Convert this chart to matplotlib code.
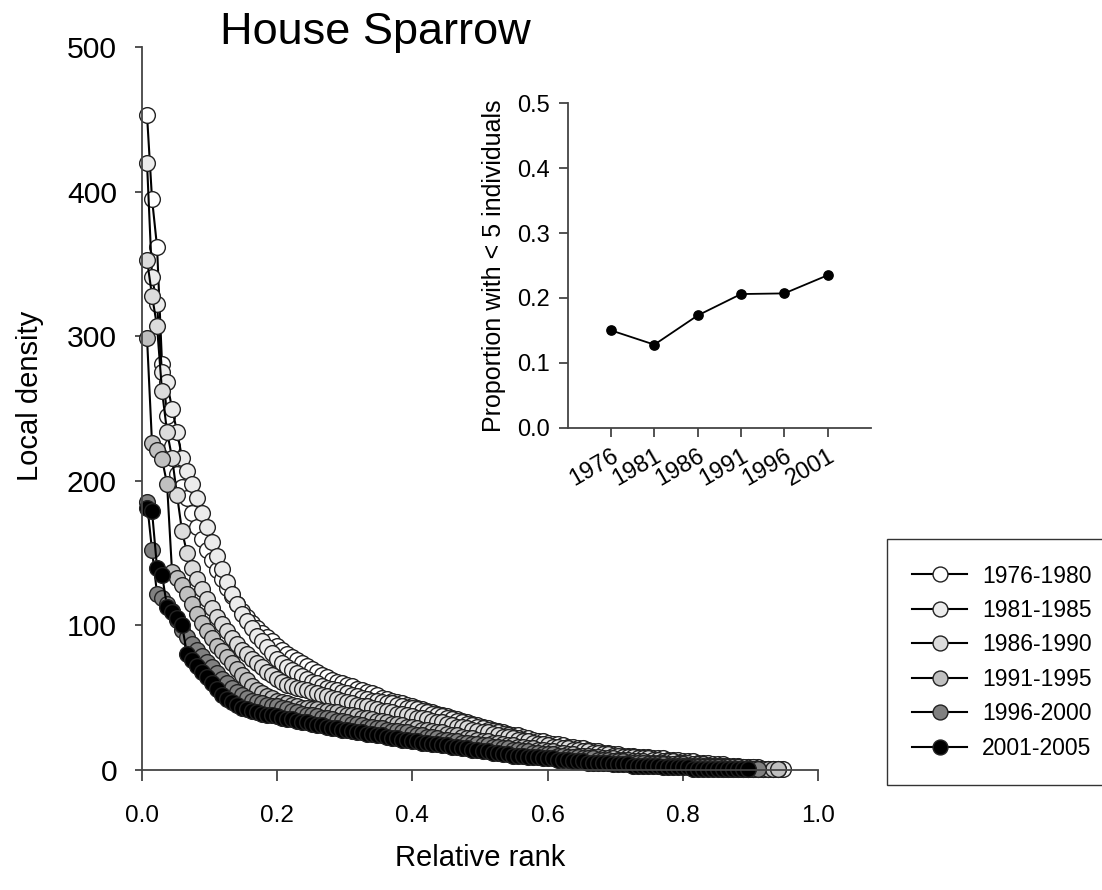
import numpy as np
import matplotlib.pyplot as plt

plt.rcParams['font.family'] = ['Liberation Sans', 'DejaVu Sans']

# Данные: локальная плотность по рангу (каждый список - один период)
periods = ['1976-1980', '1981-1985', '1986-1990', '1991-1995', '1996-2000', '2001-2005']
fills = ['#ffffff', '#ececec', '#dcdcdc', '#c0c0c0', '#808080', '#000000']
n_sites = 135

d_1976 = [453, 395, 362, 281, 245, 224, 205, 196, 188, 178,
          168, 160, 152, 145, 138, 132, 126, 120, 115, 110,
          106, 102, 98, 95, 92, 89, 86, 83, 80, 78,
          76, 74, 72, 70, 68, 66, 64, 62, 61, 60,
          59, 58, 56, 55, 54, 53, 52, 50, 49, 48,
          47, 46, 45, 44, 43, 42, 41, 40, 39, 38,
          37, 36, 35, 34, 33, 32, 31, 30, 29, 28,
          27, 26, 25, 24, 24, 23, 22, 21, 20, 20,
          19, 18, 18, 17, 16, 16, 15, 15, 14, 13,
          13, 12, 12, 11, 11, 10, 10, 10, 9, 9,
          9, 8, 8, 8, 7, 7, 7, 6, 6, 6,
          5, 5, 5, 4, 4, 4, 3, 3, 3, 2,
          2, 2, 2, 1, 1, 1, 1]
d_1981 = [420, 341, 322, 275, 268, 250, 234, 216, 207, 198,
          188, 178, 168, 158, 148, 139, 130, 122, 115, 108,
          103, 98, 93, 89, 85, 81, 77, 74, 71, 69,
          67, 65, 63, 61, 60, 58, 57, 56, 55, 54,
          53, 52, 51, 50, 49, 48, 48, 47, 46, 46,
          45, 44, 43, 43, 42, 41, 40, 39, 38, 37,
          36, 35, 34, 33, 32, 31, 30, 29, 28, 27,
          26, 25, 24, 23, 22, 21, 20, 19, 18, 17,
          16, 16, 15, 14, 14, 13, 13, 12, 12, 11,
          11, 10, 10, 9, 9, 9, 8, 8, 8, 7,
          7, 7, 6, 6, 6, 5, 5, 5, 4, 4,
          4, 4, 3, 3, 3, 3, 2, 2, 2, 2,
          2, 2, 1, 1, 1, 1, 1, 1]
d_1986 = [353, 328, 307, 262, 234, 216, 190, 165, 150, 140,
          132, 125, 118, 112, 106, 101, 96, 91, 87, 83,
          80, 77, 74, 71, 68, 66, 63, 61, 59, 58,
          57, 56, 55, 54, 53, 52, 51, 50, 49, 48,
          47, 46, 45, 44, 44, 43, 42, 41, 41, 40,
          39, 39, 38, 37, 36, 36, 35, 34, 33, 33,
          32, 31, 30, 30, 29, 28, 27, 26, 26, 25,
          24, 23, 23, 22, 21, 20, 20, 19, 18, 18,
          17, 16, 16, 15, 15, 14, 14, 13, 13, 12,
          12, 11, 11, 10, 10, 9, 9, 9, 8, 8,
          8, 7, 7, 6, 6, 6, 5, 5, 5, 4,
          4, 4, 3, 3, 3, 3, 2, 2, 2, 2,
          1, 1, 1, 1, 1, 1, 1]
d_1991 = [299, 226, 221, 215, 198, 137, 133, 128, 122, 115,
          108, 102, 96, 91, 86, 82, 78, 74, 70, 66,
          62, 58, 55, 53, 51, 50, 48, 47, 46, 45,
          44, 43, 43, 42, 42, 41, 41, 40, 40, 39,
          38, 38, 37, 36, 36, 35, 34, 34, 33, 32,
          32, 31, 30, 30, 29, 28, 28, 27, 26, 26,
          25, 24, 24, 23, 22, 22, 21, 20, 20, 19,
          19, 18, 17, 17, 16, 16, 15, 15, 14, 14,
          13, 13, 12, 12, 11, 11, 10, 10, 10, 9,
          9, 8, 8, 8, 7, 7, 7, 6, 6, 6,
          5, 5, 5, 5, 4, 4, 4, 4, 3, 3,
          3, 3, 3, 2, 2, 2, 2, 2, 2, 1,
          1, 1, 1, 1, 1, 1, 1]
d_1996 = [185, 152, 122, 119, 115, 110, 104, 97, 92, 87,
          83, 79, 75, 71, 67, 63, 60, 57, 54, 52,
          50, 48, 47, 46, 45, 44, 44, 43, 42, 41,
          40, 39, 38, 38, 37, 36, 36, 35, 34, 34,
          33, 32, 32, 31, 30, 30, 29, 29, 28, 27,
          27, 26, 26, 25, 24, 24, 23, 23, 22, 21,
          21, 20, 20, 19, 19, 18, 18, 17, 17, 16,
          16, 15, 15, 14, 14, 13, 13, 12, 12, 11,
          11, 11, 10, 10, 9, 9, 9, 8, 8, 8,
          7, 7, 7, 6, 6, 6, 5, 5, 5, 5,
          4, 4, 4, 4, 3, 3, 3, 3, 3, 2,
          2, 2, 2, 2, 2, 1, 1, 1, 1, 1, 1, 1, 1]
d_2001 = [181, 179, 140, 135, 113, 109, 105, 100, 80, 76,
          72, 68, 64, 60, 56, 52, 49, 47, 45, 43,
          42, 41, 40, 39, 38, 38, 37, 36, 35, 35,
          34, 33, 33, 32, 31, 31, 30, 29, 29, 28,
          28, 27, 26, 26, 25, 25, 24, 24, 23, 22,
          22, 21, 21, 20, 20, 19, 19, 18, 18, 17,
          17, 16, 16, 15, 15, 14, 14, 13, 13, 12,
          12, 11, 11, 10, 10, 10, 9, 9, 9, 8,
          8, 8, 7, 7, 7, 6, 6, 6, 5, 5,
          5, 5, 5, 4, 4, 4, 4, 3, 3, 3,
          3, 3, 3, 2, 2, 2, 2, 2, 2, 1,
          1, 1, 1, 1, 1, 1, 1, 1, 1, 1, 1]
series = [d_1976, d_1981, d_1986, d_1991, d_1996, d_2001]

# Данные для вставки
years = [1976, 1981, 1986, 1991, 1996, 2001]
prop_small = [0.150, 0.128, 0.173, 0.206, 0.207, 0.235]

W, H = 1102, 890
fig = plt.figure(figsize=(W / 100, H / 100), dpi=100)

# Основной график
ax = fig.add_axes([142 / W, 1 - 770 / H, 676 / W, 723 / H])
for vals, fc, lab in zip(series, fills, periods):
    rank = np.arange(1, len(vals) + 1) / n_sites
    ax.plot(rank, vals, '-o', color='black', lw=1.5, ms=11.3,
            mfc=fc, mec='#222222', mew=1.0, label=lab, clip_on=False)
ax.set_xlim(0, 1)
ax.set_ylim(0, 500)
ax.set_xticks([0, 0.2, 0.4, 0.6, 0.8, 1.0])
ax.set_xticklabels(['0.0', '0.2', '0.4', '0.6', '0.8', '1.0'])
ax.set_yticks([0, 100, 200, 300, 400, 500])
for s in ['top', 'right']:
    ax.spines[s].set_visible(False)
for s in ['left', 'bottom']:
    ax.spines[s].set_color('#444444')
    ax.spines[s].set_linewidth(1.3)
ax.tick_params(axis='x', direction='out', length=8, width=1.3, color='#444444',
               labelsize=17.5, pad=17)
ax.tick_params(axis='y', direction='out', length=5, width=1.3, color='#444444',
               labelsize=21.7, pad=13)

fig.text(220 / W, 1 - 44 / H, 'House Sparrow', fontsize=32.5, va='baseline', ha='left')
fig.text(30 / W, 1 - 396 / H, 'Local density', fontsize=21, rotation=90,
         va='center', ha='center')
fig.text(480 / W, 1 - 858 / H, 'Relative rank', fontsize=21, va='center', ha='center')

leg = ax.legend(loc='lower left', bbox_to_anchor=(887 / W, 1 - 785 / H),
                bbox_transform=fig.transFigure, fontsize=16.5, frameon=True,
                fancybox=False, edgecolor='black', handlelength=2.4,
                handletextpad=0.65, labelspacing=0.5, borderpad=1.1,
                borderaxespad=0, markerscale=0.95)
leg.get_frame().set_linewidth(1.0)

# Вставка: доля участков с < 5 особями
ins = fig.add_axes([567.7 / W, 1 - 427.7 / H, 303.3 / W, 324.4 / H])
ins.plot(years, prop_small, '-o', color='black', lw=1.3, ms=6.7)
ins.set_xlim(1971, 2006)
ins.set_ylim(0, 0.5)
ins.set_xticks(years)
ins.set_xticklabels([str(y) for y in years], rotation=30, ha='right',
                    rotation_mode='anchor')
ins.set_yticks([0, 0.1, 0.2, 0.3, 0.4, 0.5])
ins.set_yticklabels(['0.0', '0.1', '0.2', '0.3', '0.4', '0.5'])
for s in ['top', 'right']:
    ins.spines[s].set_visible(False)
for s in ['left', 'bottom']:
    ins.spines[s].set_color('#444444')
    ins.spines[s].set_linewidth(1.3)
ins.tick_params(direction='out', length=6.5, width=1.3, color='#444444',
                labelsize=17, pad=6)
ins.set_ylabel('Proportion with < 5 individuals', fontsize=18, labelpad=8)

fig.savefig('out.png', dpi=100)
